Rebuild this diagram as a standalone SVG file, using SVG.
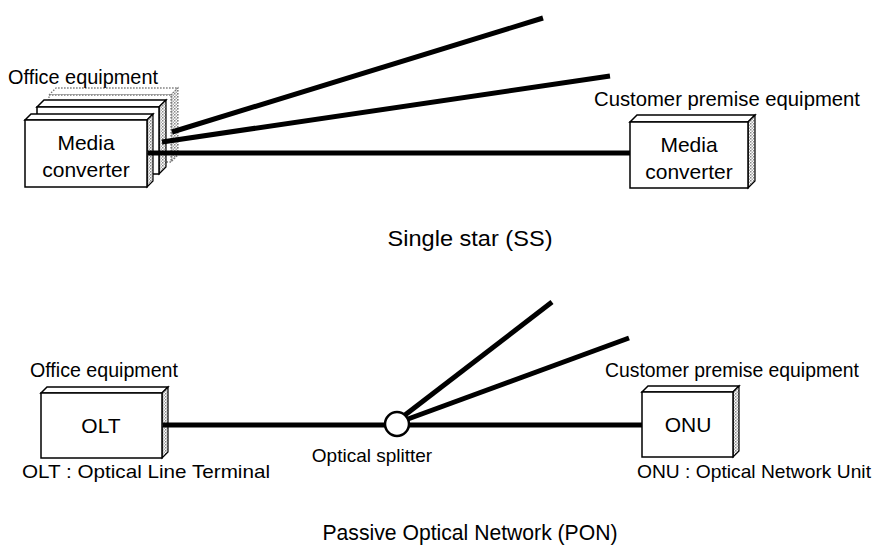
<svg xmlns="http://www.w3.org/2000/svg" width="877" height="557" viewBox="0 0 877 557">
<style>
text{font-family:"Liberation Sans",Arial,sans-serif;fill:#000}
.lbl{font-size:20px}
.box{font-size:21px;text-anchor:middle}
.ttl{font-size:22.5px;text-anchor:middle}
.sm{font-size:19px}
.face{fill:#fff;stroke:#000;stroke-width:1.5}
.side{fill:url(#dots);stroke:#000;stroke-width:1.2}
.ghost{fill:#fff;stroke:#777;stroke-width:1.3;stroke-dasharray:1.5 1.5}
.ghostside{fill:url(#dots);stroke:#777;stroke-width:1.2;stroke-dasharray:1.5 1.5}
.fiber{stroke:#000;stroke-width:5;fill:none}
</style>
<defs>
<pattern id="dots" width="3" height="3" patternUnits="userSpaceOnUse">
<rect width="3" height="3" fill="#fff"/>
<rect width="1.5" height="1.5" fill="#888"/>
<rect x="1.5" y="1.5" width="1.5" height="1.5" fill="#aaa"/>
</pattern>
</defs>
<rect width="877" height="557" fill="#fff"/>

<g id="office-ss">
<polygon class="ghost" points="49,95 56,88 178,88 171,95"/>
<polygon class="ghostside" points="171,95 178,88 178,155 171,162"/>
<rect class="ghost" x="49" y="95" width="122" height="67"/>
<polygon class="face" points="37,107 44,100 166,100 159,107"/>
<polygon class="side" points="159,107 166,100 166,167 159,174"/>
<rect class="face" x="37" y="107" width="122" height="67"/>
<polygon class="face" points="25,120 31,114 153,114 147,120"/>
<polygon class="side" points="147,120 153,114 153,181 147,187"/>
<rect class="face" x="25" y="120" width="122" height="67"/>
<text class="box" x="86" y="150">Media</text>
<text class="box" x="86" y="177">converter</text>
<text class="lbl" x="8" y="84" textLength="150" lengthAdjust="spacingAndGlyphs">Office equipment</text>
</g>

<g id="customer-ss">
<polygon class="face" points="630,122 637,115 755,115 748,122"/>
<polygon class="side" points="748,122 755,115 755,181 748,188"/>
<rect class="face" x="630" y="122" width="118" height="66"/>
<text class="box" x="689" y="152">Media</text>
<text class="box" x="689" y="179">converter</text>
<text class="lbl" x="594" y="106" textLength="266" lengthAdjust="spacingAndGlyphs">Customer premise equipment</text>
</g>

<g id="olt">
<polygon class="face" points="41,393 47,387 168,387 162,393"/>
<polygon class="side" points="162,393 168,387 168,452 162,458"/>
<rect class="face" x="41" y="393" width="121" height="65"/>
<text class="box" x="101" y="433">OLT</text>
<text class="lbl" x="30" y="377" textLength="148" lengthAdjust="spacingAndGlyphs">Office equipment</text>
<text class="sm" x="22" y="478" textLength="248" lengthAdjust="spacingAndGlyphs">OLT : Optical Line Terminal</text>
</g>

<g id="splitter">
<circle cx="397" cy="424" r="12" fill="#fff" stroke="#000" stroke-width="2.5"/>
<text class="sm" x="372" y="462" text-anchor="middle">Optical splitter</text>
</g>

<g id="onu">
<polygon class="face" points="642,392 648,386 739,386 733,392"/>
<polygon class="side" points="733,392 739,386 739,451 733,457"/>
<rect class="face" x="642" y="392" width="91" height="65"/>
<text class="box" x="688" y="432">ONU</text>
<text class="lbl" x="605" y="377" textLength="254" lengthAdjust="spacingAndGlyphs">Customer premise equipment</text>
<text class="sm" x="637" y="478" textLength="234" lengthAdjust="spacingAndGlyphs">ONU : Optical Network Unit</text>
</g>

<g id="connectors">
<line class="fiber" x1="172" y1="132" x2="543" y2="18"/>
<line class="fiber" x1="162" y1="142" x2="610" y2="76"/>
<line class="fiber" x1="148" y1="153" x2="630" y2="153"/>
<line class="fiber" x1="163" y1="425" x2="385" y2="425"/>
<line class="fiber" x1="405" y1="415" x2="552" y2="302"/>
<line class="fiber" x1="408" y1="419" x2="629" y2="338"/>
<line class="fiber" x1="409" y1="425" x2="642" y2="425"/>
</g>

<text class="ttl" x="470" y="246" textLength="165" lengthAdjust="spacingAndGlyphs">Single star (SS)</text>
<text class="ttl" x="470" y="540" textLength="295" lengthAdjust="spacingAndGlyphs">Passive Optical Network (PON)</text>
</svg>
